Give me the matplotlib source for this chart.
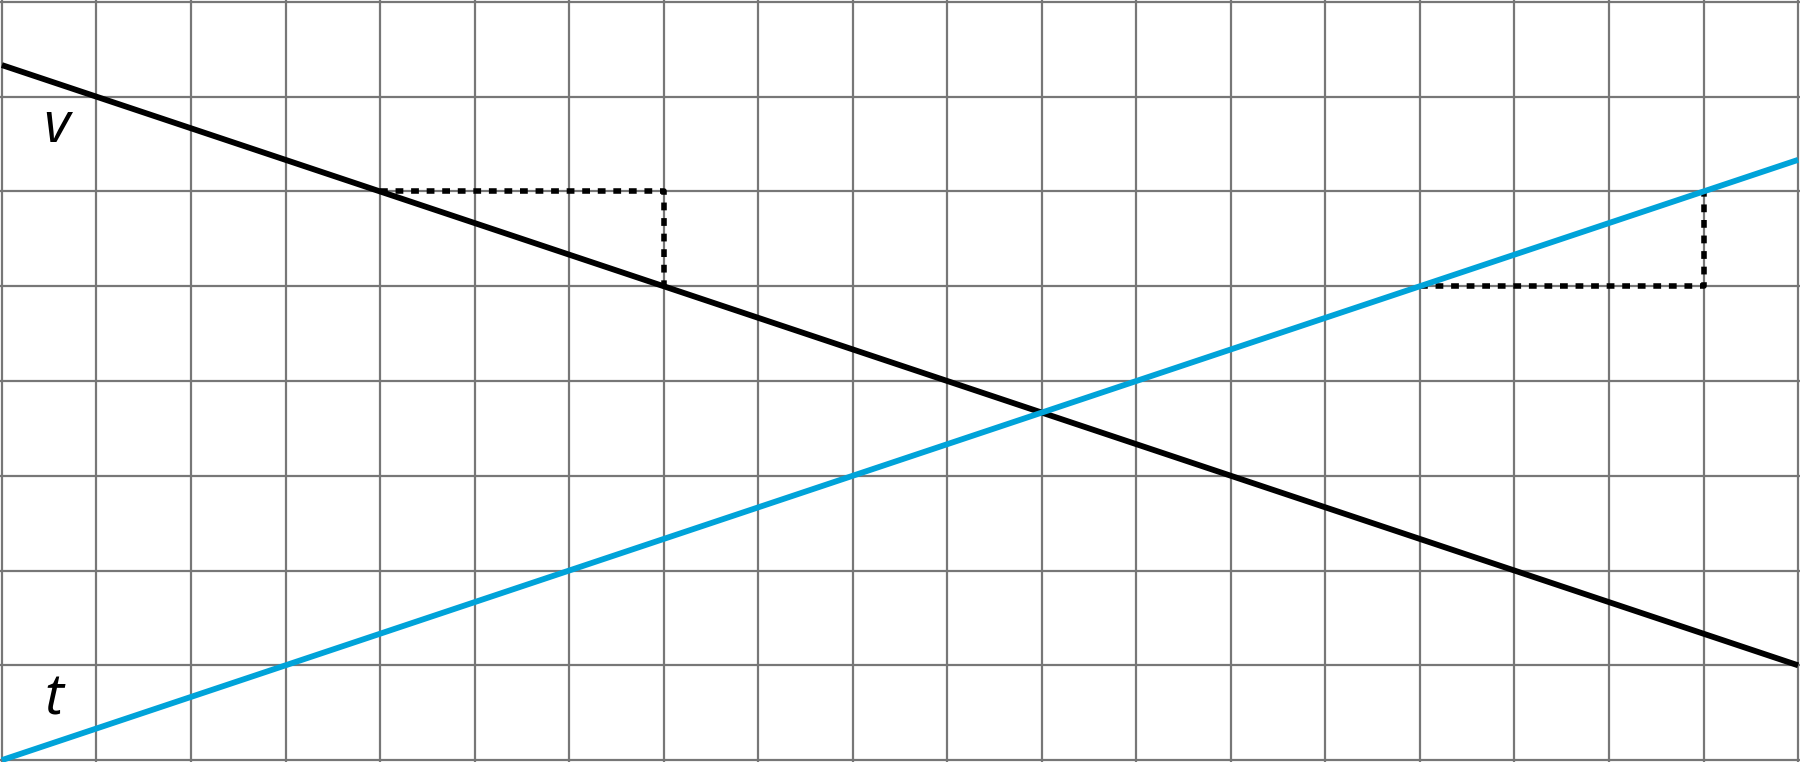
import matplotlib.pyplot as plt
import numpy as np

# grid size (units)
ncols = 19
nrows = 8

# line v (black) and line t (blue), endpoints
v_x = [0, 19]
v_y = [22/3, 1]
t_x = [0, 19]
t_y = [0, 19/3]

# dotted slope steps
v_step_x = [4, 7, 7]
v_step_y = [6, 6, 5]
t_step_x = [15, 18, 18]
t_step_y = [5, 5, 6]

# labels
labels = ["v", "t"]
label_x = [0.58, 0.55]
label_y = [6.67, 0.63]

fig = plt.figure(figsize=[18, 7.62], dpi=100)
ax = fig.add_axes([0, 0, 1, 1])

for i in range(ncols + 1):
    ax.axvline(i, color="#777777", lw=1.6, zorder=0)
for j in range(nrows + 1):
    ax.axhline(j, color="#777777", lw=1.6, zorder=0)

ax.plot(v_step_x, v_step_y, color="black", lw=4.0, ls=(0, (1.4, 1.4)), zorder=1)
ax.plot(t_step_x, t_step_y, color="black", lw=4.0, ls=(0, (1.4, 1.4)), zorder=1)
ax.plot(v_x, v_y, color="black", lw=4.2, solid_capstyle="butt", zorder=2)
ax.plot(t_x, t_y, color="#00a3d9", lw=4.2, solid_capstyle="butt", zorder=2)

for s, x, y in zip(labels, label_x, label_y):
    ax.text(x, y, s, fontsize=41, style="italic", family="Open Sans",
            ha="center", va="center")

ax.set_xlim(-0.02, ncols + 0.02)
ax.set_ylim(-0.02, nrows + 0.02)
ax.axis("off")

fig.savefig("out.png", dpi=100)
